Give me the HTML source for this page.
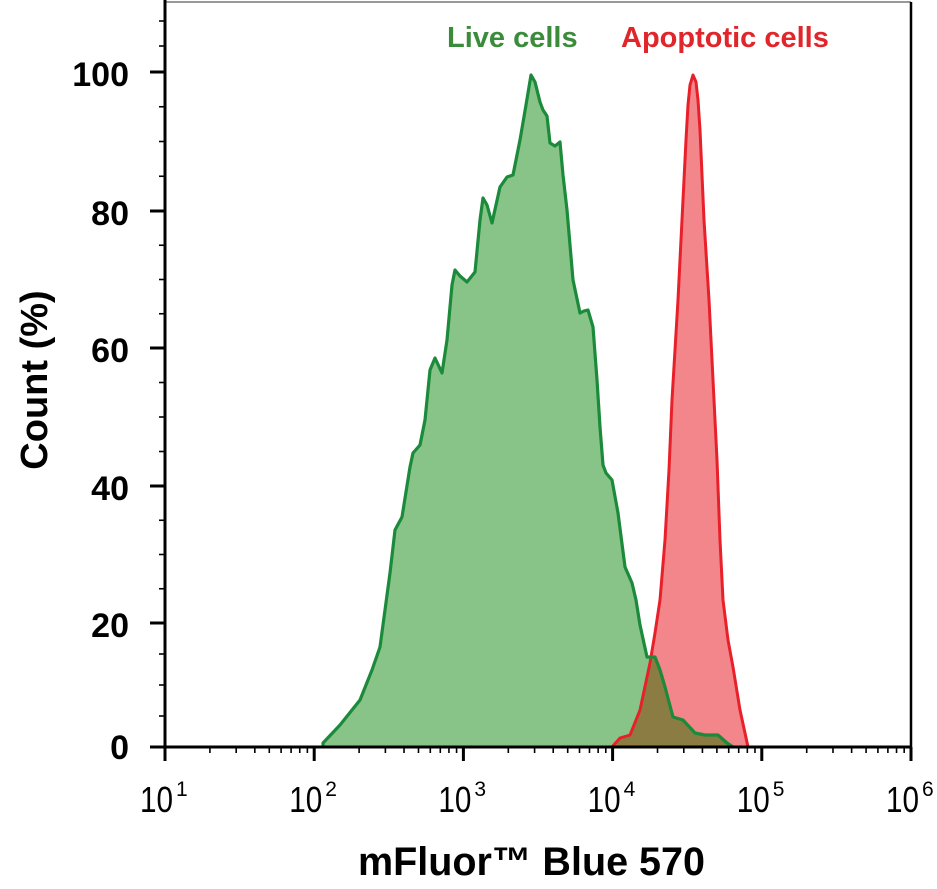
<!DOCTYPE html>
<html><head><meta charset="utf-8"><style>
html,body{margin:0;padding:0;background:#fff;}
svg{display:block;font-family:"Liberation Sans",sans-serif;}
</style></head><body>
<svg id="s" width="937" height="889" viewBox="0 0 937 889" xmlns="http://www.w3.org/2000/svg">
<defs>
<clipPath id="gclip"><path id="gp2" d=""/></clipPath>
</defs>
<line x1="165" y1="2" x2="911" y2="2" stroke="#999" stroke-width="2"/>
<line x1="911" y1="2" x2="911" y2="760" stroke="#000" stroke-width="2.5"/>
<path id="gfill" fill="#88c488" stroke="none"/>
<path id="rfill" fill="#f2868a" stroke="none"/>
<path id="ofill" fill="#8a7c42" stroke="none" clip-path="url(#gclip)"/>
<path id="rline" fill="none" stroke="#e8202a" stroke-width="3" stroke-linejoin="round"/>
<path id="gline" fill="none" stroke="#1b8a3a" stroke-width="3.2" stroke-linejoin="round"/>
<g id="ticks" stroke="#000"></g>
<line x1="165" y1="0" x2="165" y2="748" stroke="#000" stroke-width="3"/>
<line x1="150" y1="747" x2="912" y2="747" stroke="#000" stroke-width="3"/>
<g font-size="34" font-weight="bold" text-anchor="end" fill="#000">
<text x="129" y="86">100</text>
<text x="129" y="225">80</text>
<text x="129" y="362">60</text>
<text x="129" y="500">40</text>
<text x="129" y="637">20</text>
<text x="129" y="759">0</text>
</g>
<g id="xl" font-size="36" fill="#000"></g>
<text x="358" y="875" font-size="40" font-weight="bold" textLength="347" lengthAdjust="spacingAndGlyphs">mFluor™ Blue 570</text>
<text transform="translate(47,380) rotate(-90)" font-size="38" font-weight="bold" text-anchor="middle">Count (%)</text>
<text x="447" y="47" font-size="29" font-weight="bold" fill="#3a8c3a">Live cells</text>
<text x="621" y="47" font-size="29" font-weight="bold" fill="#e0262b">Apoptotic cells</text>
</svg>
<script>
var G=[[323,747],[323,743],[340,725],[360,700],[372,670],[380,647],[390,573],[395,530],[402,517],[410,467],[413,453],[420,445],[425,420],[430,370],[435,358],[442,373],[447,340],[452,285],[455,270],[460,276],[467,282],[475,272],[480,220],[483,198],[487,205],[492,223],[496,205],[500,187],[507,177],[513,175],[520,140],[526,105],[531,75],[535,82],[540,102],[543,110],[547,116],[550,143],[555,146],[560,142],[563,175],[567,210],[573,280],[580,313],[584,311],[588,310],[593,327],[597,380],[600,427],[603,465],[606,473],[612,480],[618,513],[625,567],[632,583],[636,600],[640,625],[647,657],[655,657],[660,670],[665,687],[673,717],[683,720],[695,733],[705,735],[718,735],[727,743],[733,747]];
var R=[[612,747],[620,738],[630,735],[640,710],[650,663],[655,633],[660,600],[665,540],[669,470],[672,400],[678,300],[683,200],[686,140],[688,105],[690,85],[693,75],[696,82],[698,100],[700,130],[704,220],[709,300],[713,380],[717,460],[720,540],[723,600],[728,640],[733,667],[740,710],[748,747]];
function d(p){return "M"+p.map(function(a){return a[0]+","+a[1]}).join(" L")}
var gd=d(G)+" Z", rd=d(R)+" Z";
document.getElementById("gfill").setAttribute("d",gd);
document.getElementById("gp2").setAttribute("d",gd);
document.getElementById("rfill").setAttribute("d",rd);
document.getElementById("ofill").setAttribute("d",rd);
document.getElementById("gline").setAttribute("d",d(G));
document.getElementById("rline").setAttribute("d",d(R));
var t=document.getElementById("ticks"),h="";
var X0=165,DX=149.2;
for(var k=0;k<=5;k++){var x=X0+k*DX;h+='<line x1="'+x+'" y1="747" x2="'+x+'" y2="761" stroke-width="3"/>';
 if(k<5)for(var m=2;m<=9;m++){var xm=x+Math.log10(m)*DX;h+='<line x1="'+xm+'" y1="747" x2="'+xm+'" y2="753" stroke-width="1.6"/>';}}
var ys=[747,623,486,348,211,72];
for(var i=0;i<ys.length;i++){h+='<line x1="150" y1="'+ys[i]+'" x2="165" y2="'+ys[i]+'" stroke-width="3"/>';
 if(i<ys.length-1){var a=ys[i],b=ys[i+1];for(var j=1;j<4;j++){var y=a+(b-a)*j/4;h+='<line x1="159" y1="'+y+'" x2="165" y2="'+y+'" stroke-width="1.6"/>';}}}
h+='<line x1="159" y1="46" x2="165" y2="46" stroke-width="1.6"/><line x1="159" y1="21" x2="165" y2="21" stroke-width="1.6"/>';
t.innerHTML=h;
var xl="";for(var k=0;k<=5;k++){var x=X0+k*DX;
 xl+='<text x="'+(x-25)+'" y="812" textLength="33" lengthAdjust="spacingAndGlyphs">10</text>';
 xl+='<text x="'+(x+11)+'" y="796" font-size="21">'+(k+1)+'</text>';}
document.getElementById("xl").innerHTML=xl;
</script>
</body></html>
